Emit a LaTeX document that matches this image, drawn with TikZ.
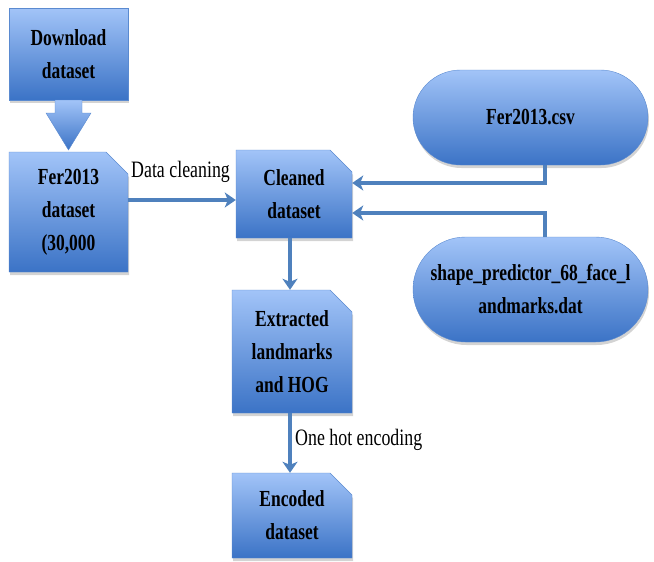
\documentclass[tikz,border=0pt]{standalone}
\usepackage{fontspec}
\setmainfont{Liberation Serif}[FakeStretch=0.76]
\usetikzlibrary{shapes.misc,shadows,arrows.meta}

\definecolor{boxtop}{HTML}{A2C4F8}
\definecolor{boxbot}{HTML}{3B73C6}
\definecolor{boxline}{HTML}{5A8AD0}
\definecolor{conn}{HTML}{4F81BD}

\tikzset{
    block/.style={draw=boxline, thin, top color=boxtop, bottom color=boxbot,
        drop shadow={opacity=0.35, shadow xshift=1pt, shadow yshift=-3pt},
        align=center, font=\fontsize{23}{33}\selectfont\bfseries, inner sep=2pt},
    snipbox/.style={block, chamfered rectangle, chamfered rectangle corners=north east,
        chamfered rectangle xsep=11pt, chamfered rectangle ysep=11pt},
    database/.style={block, rounded rectangle, minimum width=239pt},
    link/.style={conn, line width=3.5pt, -{Stealth[length=11pt,width=15pt,inset=3pt]}},
    lbl/.style={font=\fontsize{23.5}{26}\selectfont, inner sep=0pt}
}

\begin{document}
\begin{tikzpicture}[x=1pt, y=-1pt]
    \useasboundingbox (0,0) rectangle (654,562);

    % Left column
    \node[block, minimum width=119pt, minimum height=92pt] (download) at (68.5,54) {Download\\dataset};
    \node[snipbox, minimum width=119pt, minimum height=120pt] (fer) at (68.5,212) {Fer2013\\dataset\\(30,000};

    % Big arrow between the two
    \path[draw=boxline, thin, top color=boxtop, bottom color=boxbot]
        (55,100) -- (82,100) -- (82,113) -- (91,113) -- (68.5,150) -- (46,113) -- (55,113) -- cycle;

    % Middle column
    \node[snipbox, minimum width=116pt, minimum height=88pt] (cleaned) at (294,194) {Cleaned\\dataset};
    \node[snipbox, minimum width=120pt, minimum height=123pt] (extracted) at (292,351.5) {Extracted\\landmarks\\and HOG};
    \node[snipbox, minimum width=120pt, minimum height=85pt] (encoded) at (292,515.5) {Encoded\\dataset};

    % Right column
    \node[database, minimum height=95pt] (csv) at (530.5,117.5) {Fer2013.csv};
    \node[database, minimum height=105pt] (predictor) at (530.5,289.5) {shape\_predictor\_68\_face\_l\\andmarks.dat};

    % Connectors
    \draw[link] (fer.east |- 0,200) -- (cleaned.west |- 0,200);
    \node[lbl, anchor=south west] (cleanlbl) at (131,183) {Data cleaning};
    \draw[link] (csv.south -| 545,0) |- (cleaned.east |- 0,183);
    \draw[link] (predictor.north -| 545,0) |- (cleaned.east |- 0,213);
    \draw[link] (cleaned.south -| 290,0) -- (extracted.north -| 290,0);
    \draw[link] (extracted.south -| 290,0) -- (encoded.north -| 290,0);
    \node[lbl, anchor=west] (encodelbl) at (295,440) {One hot encoding};
\end{tikzpicture}
\end{document}
